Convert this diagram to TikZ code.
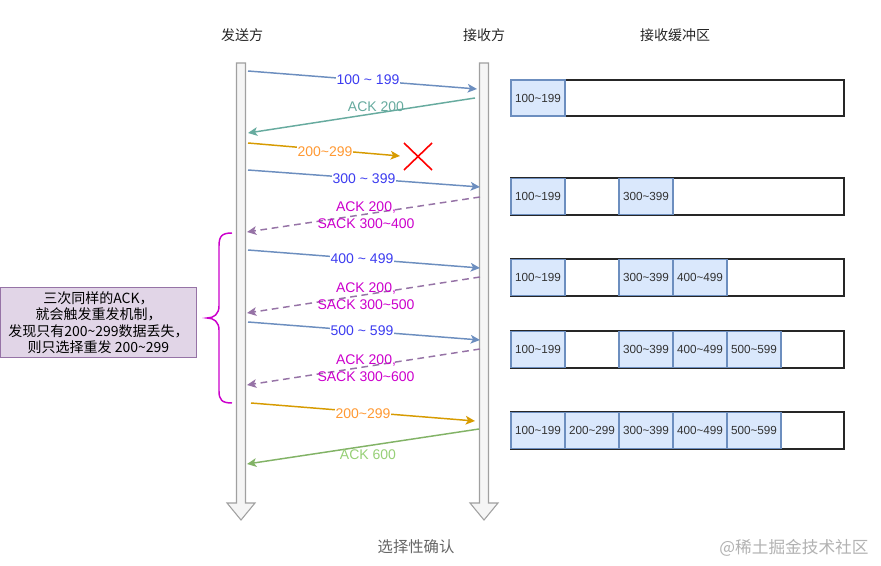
\documentclass[tikz,border=0pt]{standalone}
\usepackage{fontspec}
\setmainfont{Liberation Sans}
\newfontfamily\cjk{Noto Sans CJK SC}
\usetikzlibrary{arrows.meta}
\definecolor{lineblue}{HTML}{6C8EBF}
\definecolor{txtblue}{HTML}{3C3CF0}
\definecolor{ackgreen}{HTML}{67AB9F}
\definecolor{lineorange}{HTML}{D79B00}
\definecolor{txtorange}{HTML}{FF9933}
\definecolor{sackline}{HTML}{9673A6}
\definecolor{sacktxt}{HTML}{CC00CC}
\definecolor{ack6line}{HTML}{82B366}
\definecolor{ack6txt}{HTML}{97D077}
\definecolor{cellfill}{HTML}{DAE8FC}
\definecolor{notefill}{HTML}{E1D5E7}
\definecolor{lifefill}{HTML}{F5F5F5}
\definecolor{lifedraw}{HTML}{A0A0A0}
\tikzset{
  tip/.style={-{Stealth[length=7pt,width=6.5pt,inset=1.8pt]}},
  msgline/.style={tip,line width=1.1pt},
  data/.style={msgline,draw=lineblue},
  ackline/.style={msgline,draw=ackgreen},
  lostline/.style={msgline,draw=lineorange},
  sackarrow/.style={msgline,draw=sackline,dash pattern=on 5pt off 3.5pt},
  ack6/.style={msgline,draw=ack6line},
  lbl/.style={font=\fontsize{10.5pt}{12.5pt}\selectfont,inner sep=0.5pt,align=center},
  datalbl/.style={lbl,text=txtblue,fill=white},
  lifeline/.style={fill=lifefill,draw=lifedraw,line width=0.8pt},
  cell/.style={rectangle,fill=cellfill,draw=lineblue,line width=1.1pt,minimum width=40.5pt,minimum height=27.3pt,inner sep=0pt,font=\fontsize{8.8pt}{10pt}\selectfont,text=black!80},
  frame/.style={draw=black!85,line width=1.6pt},
  title/.style={font=\cjk\fontsize{10.5pt}{12pt}\selectfont,text=black!85},
  note/.style={rectangle,fill=notefill,draw=sackline,line width=0.6pt,minimum width=147pt,minimum height=53pt,align=center,font=\cjk\fontsize{10.5pt}{12.4pt}\selectfont,inner sep=0pt}
}
\begin{document}
\begin{tikzpicture}[x=0.75pt,y=-0.75pt]
\useasboundingbox (0,0) rectangle (881,566);
\fill[white] (0,0) rectangle (881,566);
% titles
\node[title] (tsend) at (242,35) {发送方};
\node[title] (trecv) at (484,35) {接收方};
\node[title] (tbuf) at (675,35) {接收缓冲区};
% lifelines
\draw[lifeline] (236.5,63) -- (245.5,63) -- (245.5,503) -- (255,503) -- (241,520) -- (227,503) -- (236.5,503) -- cycle;
\draw[lifeline] (479.5,63) -- (488.5,63) -- (488.5,503) -- (498,503) -- (484,520) -- (470,503) -- (479.5,503) -- cycle;
% endpoints
\coordinate (s1) at (248,71);   \coordinate (r1) at (477,89);
\coordinate (r2) at (475,98);   \coordinate (s2) at (248,133);
\coordinate (s3) at (248,143);  \coordinate (x3) at (400,156);
\coordinate (s4) at (248,170);  \coordinate (r4) at (480,187);
\coordinate (r5) at (480,197);  \coordinate (s5) at (247,232);
\coordinate (s6) at (248,250);  \coordinate (r6) at (480,268);
\coordinate (r7) at (480,277);  \coordinate (s7) at (247,313);
\coordinate (s8) at (248,322);  \coordinate (r8) at (480,340);
\coordinate (r9) at (480,349);  \coordinate (s9) at (247,385);
\coordinate (s10) at (251,403); \coordinate (r10) at (475,421);
\coordinate (r11) at (479,429); \coordinate (s11) at (247,464);
% messages
\draw[data] (s1) -- (r1);
\node[datalbl] (l1) at (368,80) {100 \textasciitilde{} 199};
\draw[ackline] (r2) -- (s2);
\node[lbl,text=ackgreen] (l2) at (376,107) {ACK 200};
\draw[lostline] (s3) -- (x3);
\node[lbl,text=txtorange,fill=white] (l3) at (325,152) {200\textasciitilde299};
\draw[red,line width=1.2pt] (404,143) -- (432,170) (432,143) -- (404,170);
\draw[data] (s4) -- (r4);
\node[datalbl] (l4) at (364,179) {300 \textasciitilde{} 399};
\draw[sackarrow] (r5) -- (s5);
\node[lbl,text=sacktxt] (l5) at (366,215) {ACK 200,\\SACK 300\textasciitilde400};
\draw[data] (s6) -- (r6);
\node[datalbl] (l6) at (362,259) {400 \textasciitilde{} 499};
\draw[sackarrow] (r7) -- (s7);
\node[lbl,text=sacktxt] (l7) at (366,296) {ACK 200,\\SACK 300\textasciitilde500};
\draw[data] (s8) -- (r8);
\node[datalbl] (l8) at (362,331) {500 \textasciitilde{} 599};
\draw[sackarrow] (r9) -- (s9);
\node[lbl,text=sacktxt] (l9) at (366,368) {ACK 200,\\SACK 300\textasciitilde600};
\draw[lostline] (s10) -- (r10);
\node[lbl,text=txtorange,fill=white] (l10) at (363,414) {200\textasciitilde299};
\draw[ack6] (r11) -- (s11);
\node[lbl,text=ack6txt] (l11) at (368,455) {ACK 600};
% brace
\draw[sacktxt,line width=1.1pt] (232,233) .. controls (222,233) and (219,236) .. (219,246) -- (219,306)
  .. controls (219,314) and (214,318) .. (207,318) .. controls (214,318) and (219,322) .. (219,330)
  -- (219,391) .. controls (219,400) and (222,403) .. (232,403);
% note
\node[note] (note) at (98.5,322.5) {三次同样的ACK，\\就会触发重发机制，\\发现只有200\textasciitilde299数据丢失，\\则只选择重发 200\textasciitilde299};
% buffers
\foreach \ya/\yb in {80/116,178/215,259/296,331/368,412/449}{
  \draw[frame] (511,\ya) rectangle (844,\yb);
}
\node[cell] (a1) at (538,98) {100\textasciitilde199};
\node[cell] (b1) at (538,196.5) {100\textasciitilde199};
\node[cell] (b3) at (646,196.5) {300\textasciitilde399};
\node[cell] (c1) at (538,277.5) {100\textasciitilde199};
\node[cell] (c3) at (646,277.5) {300\textasciitilde399};
\node[cell] (c4) at (700,277.5) {400\textasciitilde499};
\node[cell] (d1) at (538,349.5) {100\textasciitilde199};
\node[cell] (d3) at (646,349.5) {300\textasciitilde399};
\node[cell] (d4) at (700,349.5) {400\textasciitilde499};
\node[cell] (d5) at (754,349.5) {500\textasciitilde599};
\node[cell] (e1) at (538,430.5) {100\textasciitilde199};
\node[cell] (e2) at (592,430.5) {200\textasciitilde299};
\node[cell] (e3) at (646,430.5) {300\textasciitilde399};
\node[cell] (e4) at (700,430.5) {400\textasciitilde499};
\node[cell] (e5) at (754,430.5) {500\textasciitilde599};
% captions
\node[font=\cjk\fontsize{11.5pt}{13pt}\selectfont,text=black!60] (cap) at (416,547) {选择性确认};
\node[font=\cjk\fontsize{12.5pt}{14pt}\selectfont,text=black!30] (wm) at (794,548) {@稀土掘金技术社区};
\end{tikzpicture}
\end{document}
